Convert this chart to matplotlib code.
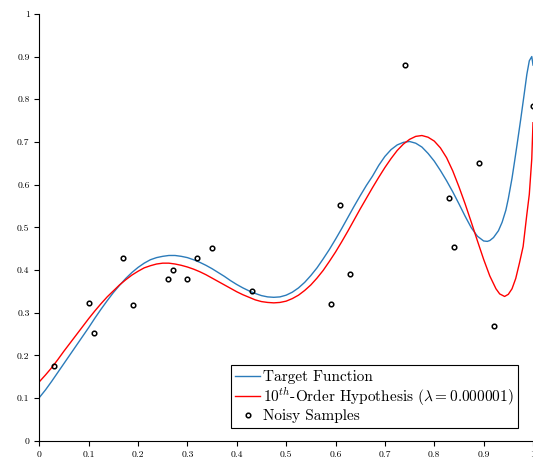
# Target function vs 10th-order regularised fit on noisy samples
import matplotlib
matplotlib.use('Agg')
import matplotlib.pyplot as plt
from matplotlib.ticker import FuncFormatter

plt.rcParams['font.family'] = 'serif'
plt.rcParams['font.serif'] = ['cmr10']
plt.rcParams['mathtext.fontset'] = 'cm'
plt.rcParams['axes.formatter.use_mathtext'] = True

# noisy samples
sample_x = [0.03, 0.10, 0.11, 0.17, 0.19, 0.26, 0.27, 0.30, 0.32, 0.35,
            0.43, 0.59, 0.61, 0.63, 0.74, 0.83, 0.84, 0.89, 0.92, 1.00]
sample_y = [0.174, 0.323, 0.253, 0.429, 0.319, 0.378, 0.401, 0.378, 0.429, 0.452,
            0.350, 0.320, 0.552, 0.391, 0.880, 0.569, 0.455, 0.650, 0.269, 0.784]

# target function, read point by point
target_x = [0.0, 0.0125, 0.025, 0.0375, 0.05, 0.0625, 0.075, 0.0875, 0.1, 0.1125,
            0.125, 0.1375, 0.15, 0.1625, 0.175, 0.1875, 0.2, 0.2125, 0.225, 0.2375,
            0.25, 0.2625, 0.275, 0.2875, 0.3, 0.3125, 0.325, 0.3375, 0.35, 0.3625,
            0.375, 0.3875, 0.4, 0.4125, 0.425, 0.4375, 0.45, 0.4625, 0.475, 0.4875,
            0.5, 0.5125, 0.525, 0.5375, 0.55, 0.5625, 0.575, 0.5875, 0.6, 0.6125,
            0.625, 0.6375, 0.65, 0.6625, 0.675, 0.6875, 0.7, 0.7125, 0.725, 0.7375,
            0.75, 0.7625, 0.775, 0.7875, 0.8, 0.8125, 0.825, 0.8375, 0.85, 0.8625,
            0.875, 0.8875, 0.9, 0.9075, 0.9125, 0.92, 0.93, 0.9375, 0.945, 0.95,
            0.9575, 0.9625, 0.9675, 0.975, 0.9825, 0.9875, 0.9925, 0.9975, 1.0]
target_y = [0.101, 0.119, 0.139, 0.160, 0.181, 0.202, 0.223, 0.244, 0.265, 0.287,
            0.308, 0.328, 0.347, 0.364, 0.380, 0.394, 0.406, 0.416, 0.424, 0.429,
            0.432, 0.434, 0.434, 0.432, 0.429, 0.424, 0.418, 0.411, 0.403, 0.394,
            0.385, 0.375, 0.366, 0.358, 0.351, 0.345, 0.340, 0.337, 0.336, 0.337,
            0.341, 0.348, 0.358, 0.371, 0.387, 0.405, 0.426, 0.448, 0.472, 0.497,
            0.523, 0.549, 0.574, 0.598, 0.620, 0.645, 0.666, 0.682, 0.693, 0.699,
            0.701, 0.697, 0.688, 0.673, 0.655, 0.633, 0.609, 0.583, 0.555, 0.526,
            0.499, 0.479, 0.468, 0.467, 0.469, 0.476, 0.492, 0.512, 0.540, 0.567,
            0.615, 0.653, 0.692, 0.752, 0.815, 0.858, 0.890, 0.900, 0.880]

# 10th-order hypothesis, read point by point
hyp_x = [0.0, 0.0125, 0.025, 0.0375, 0.05, 0.0625, 0.075, 0.0875, 0.1, 0.1125,
         0.125, 0.1375, 0.15, 0.1625, 0.175, 0.1875, 0.2, 0.2125, 0.225, 0.2375,
         0.25, 0.2625, 0.275, 0.2875, 0.3, 0.3125, 0.325, 0.3375, 0.35, 0.3625,
         0.375, 0.3875, 0.4, 0.4125, 0.425, 0.4375, 0.45, 0.4625, 0.475, 0.4875,
         0.5, 0.5125, 0.525, 0.5375, 0.55, 0.5625, 0.575, 0.5875, 0.6, 0.6125,
         0.625, 0.6375, 0.65, 0.6625, 0.675, 0.6875, 0.7, 0.7125, 0.725, 0.7375,
         0.75, 0.7625, 0.775, 0.7875, 0.8, 0.8125, 0.825, 0.8375, 0.85, 0.8625,
         0.875, 0.8875, 0.9, 0.9125, 0.925, 0.9325, 0.9425, 0.95, 0.9575, 0.965,
         0.9725, 0.98, 0.9875, 0.9925, 0.9975, 1.0]
hyp_y = [0.138, 0.154, 0.171, 0.190, 0.210, 0.229, 0.248, 0.267, 0.286, 0.304,
         0.321, 0.337, 0.351, 0.365, 0.377, 0.388, 0.397, 0.405, 0.410, 0.414,
         0.416, 0.416, 0.414, 0.411, 0.407, 0.402, 0.396, 0.389, 0.381, 0.373,
         0.365, 0.357, 0.349, 0.342, 0.336, 0.330, 0.326, 0.324, 0.323, 0.324,
         0.327, 0.333, 0.341, 0.352, 0.365, 0.381, 0.399, 0.420, 0.442, 0.466,
         0.491, 0.517, 0.543, 0.568, 0.593, 0.617, 0.640, 0.661, 0.680, 0.695,
         0.706, 0.713, 0.715, 0.711, 0.702, 0.686, 0.663, 0.632, 0.595, 0.555,
         0.512, 0.468, 0.425, 0.386, 0.356, 0.344, 0.338, 0.343, 0.356, 0.380,
         0.416, 0.455, 0.530, 0.577, 0.660, 0.745]

x_ticks = [0, 0.1, 0.2, 0.3, 0.4, 0.5, 0.6, 0.7, 0.8, 0.9, 1.0]
y_ticks = [0, 0.1, 0.2, 0.3, 0.4, 0.5, 0.6, 0.7, 0.8, 0.9, 1.0]

fig = plt.figure(figsize=(5.33, 4.62), dpi=100)
ax = fig.add_axes([0.0737, 0.046, 0.9263, 0.924])

ax.plot(target_x, target_y, color='#2b7bba', lw=1.0, label='Target Function')
ax.plot(hyp_x, hyp_y, color='red', lw=1.0,
        label=r'$10^{th}$-Order Hypothesis ($\lambda = 0.000001$)')
ax.plot(sample_x, sample_y, 'o', ms=3.3, mfc='none', mec='black', mew=1.1,
        label='Noisy Samples', zorder=3)

ax.set_xlim(0, 1)
ax.set_ylim(0, 1)
ax.set_xticks(x_ticks)
ax.set_yticks(y_ticks)
fmt = FuncFormatter(lambda v, p: '%g' % v)
ax.xaxis.set_major_formatter(fmt)
ax.yaxis.set_major_formatter(fmt)
ax.tick_params(labelsize=7, length=3.5, width=0.8)
ax.spines['top'].set_visible(False)
ax.spines['right'].set_visible(False)

leg = ax.legend(loc='lower right', bbox_to_anchor=(0.970, 0.030), fontsize=11,
                fancybox=False, edgecolor='black', framealpha=1,
                handlelength=1.6, handletextpad=0.2, borderpad=0.3,
                labelspacing=0.1, borderaxespad=0)
leg.get_frame().set_linewidth(0.8)

plt.savefig('out.png', dpi=100)
